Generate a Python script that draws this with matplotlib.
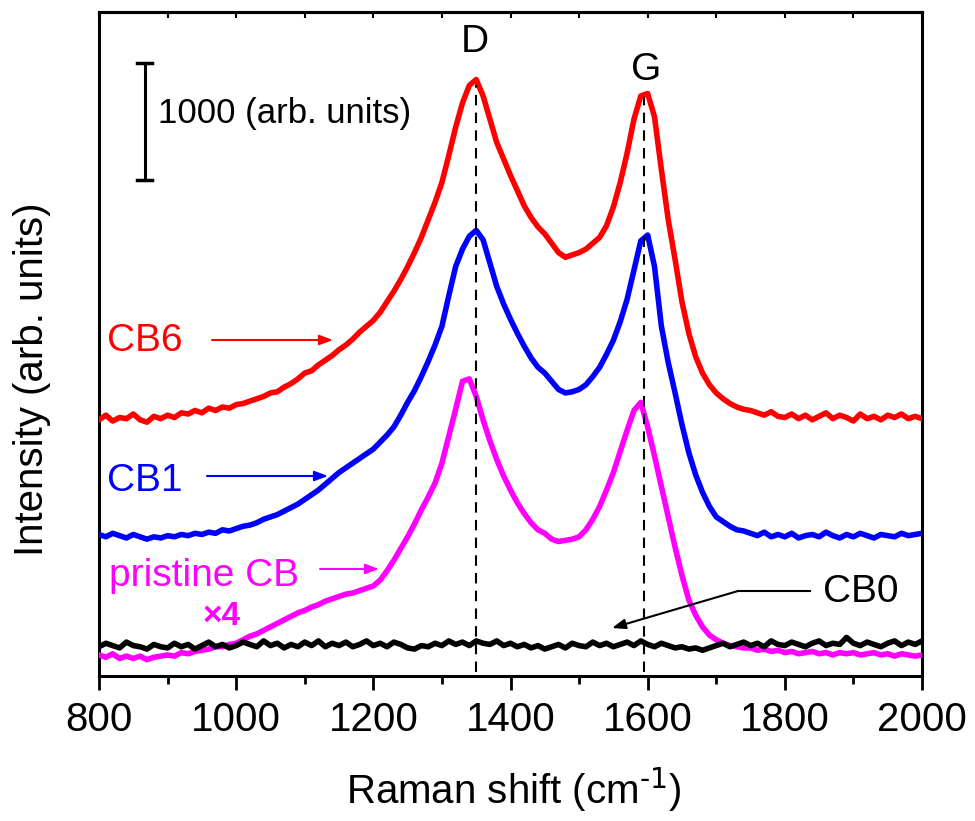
import matplotlib
matplotlib.use("Agg")
import matplotlib.pyplot as plt
from matplotlib.lines import Line2D
from matplotlib.ticker import MultipleLocator

plt.rcParams['font.family'] = ['Liberation Sans', 'DejaVu Sans']
plt.rcParams['mathtext.default'] = 'regular'

# ---------------- data (Raman spectra, arb. units, stacked) ----------------
raman_shift = list(range(800, 2001, 10))

cb6 = [2190, 2230, 2180, 2210, 2200, 2240, 2190, 2170, 2220, 2200, 2230, 2210, 2250, 2240, 2270, 2250, 2290, 2270, 2300, 2290,
       2320, 2330, 2350, 2370, 2390, 2420, 2430, 2470, 2500, 2540, 2590, 2610, 2660, 2700, 2740, 2790, 2830, 2880, 2940, 2990,
       3040, 3110, 3200, 3290, 3390, 3500, 3620, 3750, 3900, 4050, 4220, 4450, 4690, 4900, 5050, 5100, 4960, 4760, 4560, 4420,
       4280, 4150, 4020, 3920, 3840, 3780, 3700, 3620, 3580, 3600, 3620, 3650, 3700, 3750, 3850, 4010, 4220, 4470, 4760, 4960,
       4980, 4780, 4330, 3900, 3560, 3200, 2930, 2730, 2590, 2490, 2420, 2370, 2330, 2300, 2280, 2270, 2250, 2230, 2260, 2220,
       2210, 2240, 2200, 2230, 2190, 2220, 2250, 2200, 2230, 2210, 2180, 2240, 2200, 2220, 2190, 2230, 2210, 2240, 2200, 2220, 2200]

cb1 = [1210, 1190, 1220, 1200, 1180, 1210, 1190, 1170, 1190, 1180, 1200, 1190, 1210, 1200, 1220, 1210, 1230, 1220, 1250, 1240,
       1260, 1280, 1290, 1310, 1340, 1360, 1380, 1410, 1440, 1470, 1510, 1550, 1590, 1640, 1690, 1740, 1780, 1820, 1860, 1900,
       1940, 2000, 2060, 2130, 2230, 2340, 2440, 2560, 2690, 2830, 2990, 3250, 3500, 3650, 3760, 3810, 3730, 3530, 3330, 3180,
       3050, 2930, 2820, 2720, 2640, 2590, 2520, 2450, 2420, 2430, 2450, 2490, 2560, 2640, 2750, 2870, 3030, 3220, 3470, 3720,
       3770, 3500, 2990, 2680, 2420, 2150, 1910, 1720, 1570, 1450, 1360, 1320, 1280, 1250, 1240, 1220, 1200, 1230, 1190, 1210,
       1190, 1220, 1180, 1200, 1210, 1190, 1230, 1200, 1180, 1210, 1190, 1220, 1200, 1180, 1210, 1200, 1190, 1220, 1200, 1210, 1220]

pristine_x4 = [180, 160, 190, 150, 170, 150, 170, 140, 160, 170, 180, 170, 200, 190, 210, 220, 230, 250, 250, 270,
               280, 310, 340, 360, 390, 420, 450, 480, 510, 540, 560, 590, 610, 640, 660, 680, 700, 710, 730, 750,
               770, 820, 900, 990, 1090, 1190, 1300, 1420, 1530, 1650, 1820, 2050, 2280, 2520, 2540, 2390, 2190, 2010, 1850, 1710,
               1590, 1480, 1390, 1310, 1250, 1220, 1170, 1150, 1160, 1170, 1190, 1250, 1340, 1450, 1590, 1740, 1920, 2100, 2270, 2340,
               2130, 1880, 1620, 1360, 1100, 860, 650, 520, 420, 350, 310, 280, 260, 250, 240, 240, 220, 230, 210, 220,
               200, 210, 190, 200, 210, 190, 200, 180, 200, 190, 200, 180, 190, 200, 180, 190, 170, 190, 180, 170, 180]

cb0 = [250, 280, 260, 240, 290, 260, 250, 230, 270, 250, 240, 280, 250, 270, 230, 260, 290, 250, 270, 240,
       260, 290, 270, 250, 300, 260, 280, 240, 270, 250, 290, 260, 300, 250, 280, 260, 290, 250, 270, 300,
       260, 280, 250, 290, 270, 240, 230, 260, 250, 280, 260, 300, 270, 290, 260, 300, 280, 270, 300, 260,
       280, 250, 270, 240, 260, 230, 250, 270, 240, 280, 260, 250, 290, 260, 280, 250, 270, 290, 260, 300,
       270, 250, 280, 260, 240, 250, 230, 240, 220, 240, 260, 280, 250, 270, 290, 260, 280, 250, 300, 270,
       260, 290, 270, 250, 280, 300, 260, 280, 270, 330, 280, 260, 290, 270, 250, 280, 300, 260, 290, 270, 300]

band_positions = [1350, 1595]
band_labels = ["D", "G"]
series_labels = ["CB6", "CB1", "pristine CB", "CB0"]
scale_bar_value = 1000

# ---------------- figure ----------------
W, H = 975, 821
fig = plt.figure(figsize=(W / 100, H / 100), dpi=100)
ax = fig.add_axes([99 / W, 1 - 676 / H, (922 - 99) / W, (676 - 12) / H])


def f(x, y):
    return (x / W, 1 - y / H)


lw = 4.0
ax.plot(raman_shift, cb6, color='#FF0000', lw=lw, zorder=3)
ax.plot(raman_shift, cb1, color='#0000FF', lw=lw, zorder=3)
ax.plot(raman_shift, pristine_x4, color='#FF00FF', lw=lw, zorder=3)
ax.plot(raman_shift, cb0, color='black', lw=lw, zorder=4)

ax.set_xlim(800, 2000)
ax.set_ylim(0, 5677)

# dashed band lines
ax.plot([band_positions[0]] * 2, [30, 5050], ls=(0, (5, 3.5)), color='black', lw=1.5, zorder=5)
ax.plot([band_positions[1]] * 2, [30, 4950], ls=(0, (5, 3.5)), color='black', lw=1.5, zorder=5)
fig.text(*f(475, 42), band_labels[0], fontsize=28, ha='center', va='center')
fig.text(*f(646, 70), band_labels[1], fontsize=28, ha='center', va='center')

# scale bar
sb_x = 867
sb_y0 = 4240
ax.plot([sb_x, sb_x], [sb_y0, sb_y0 + scale_bar_value], color='black', lw=2.2)
ax.plot([sb_x - 11, sb_x + 11], [sb_y0, sb_y0], color='black', lw=2.5)
ax.plot([sb_x - 11, sb_x + 11], [sb_y0 + scale_bar_value] * 2, color='black', lw=2.5)
fig.text(*f(158, 123), f"{scale_bar_value} (arb. units)", fontsize=25, ha='left', va='baseline')

# series labels with arrows
aprops = dict(arrowstyle='-|>,head_length=0.8,head_width=0.3', lw=1.5, shrinkA=0, shrinkB=0)
fig.text(*f(107, 341), series_labels[0], fontsize=28, color='#FF0000', ha='left', va='center')
ax.annotate('', xy=f(333, 340), xytext=f(212, 340), xycoords='figure fraction',
            textcoords='figure fraction', arrowprops=dict(color='#FF0000', **aprops))
fig.text(*f(107, 481), series_labels[1], fontsize=28, color='#0000FF', ha='left', va='center')
ax.annotate('', xy=f(328, 476), xytext=f(207, 476), xycoords='figure fraction',
            textcoords='figure fraction', arrowprops=dict(color='#0000FF', **aprops))
fig.text(*f(109, 576), series_labels[2], fontsize=28, color='#FF00FF', ha='left', va='center')
fig.text(*f(222, 616), "×4", fontsize=24, color='#FF00FF', fontweight='bold', ha='center', va='center')
ax.annotate('', xy=f(379, 569), xytext=f(320, 569), xycoords='figure fraction',
            textcoords='figure fraction', arrowprops=dict(color='#FF00FF', **aprops))
fig.text(*f(861, 592), series_labels[3], fontsize=28, color='black', ha='center', va='center')
fig.add_artist(Line2D([f(810, 591)[0], f(738, 591)[0]], [f(810, 591)[1], f(738, 591)[1]],
                      transform=fig.transFigure, color='black', lw=1.5))
ax.annotate('', xy=f(612, 628), xytext=f(738, 591), xycoords='figure fraction',
            textcoords='figure fraction', arrowprops=dict(color='black', **aprops))

# axes styling
for s in ax.spines.values():
    s.set_linewidth(2.2)
ax.xaxis.set_major_locator(MultipleLocator(200))
ax.xaxis.set_minor_locator(MultipleLocator(100))
ax.tick_params(axis='x', which='major', direction='out', length=10, width=2.0,
               labelsize=29, pad=8, top=False)
ax.tick_params(axis='x', which='minor', direction='out', length=6, width=2.0, top=False)
ax.set_yticks([])

top = ax.secondary_xaxis('top')
top.set_xticks(list(range(800, 2001, 100)))
top.tick_params(direction='in', length=4, width=1.5, labeltop=False)
top.spines['top'].set_linewidth(2.2)

fig.text(*f(514, 790), r'Raman shift (cm$^{\text{-1}}$)', fontsize=29, ha='center', va='center')
fig.text(*f(32, 379), 'Intensity (arb. units)', fontsize=29, rotation=90, ha='center', va='center')

fig.savefig('out.png', dpi=100)
